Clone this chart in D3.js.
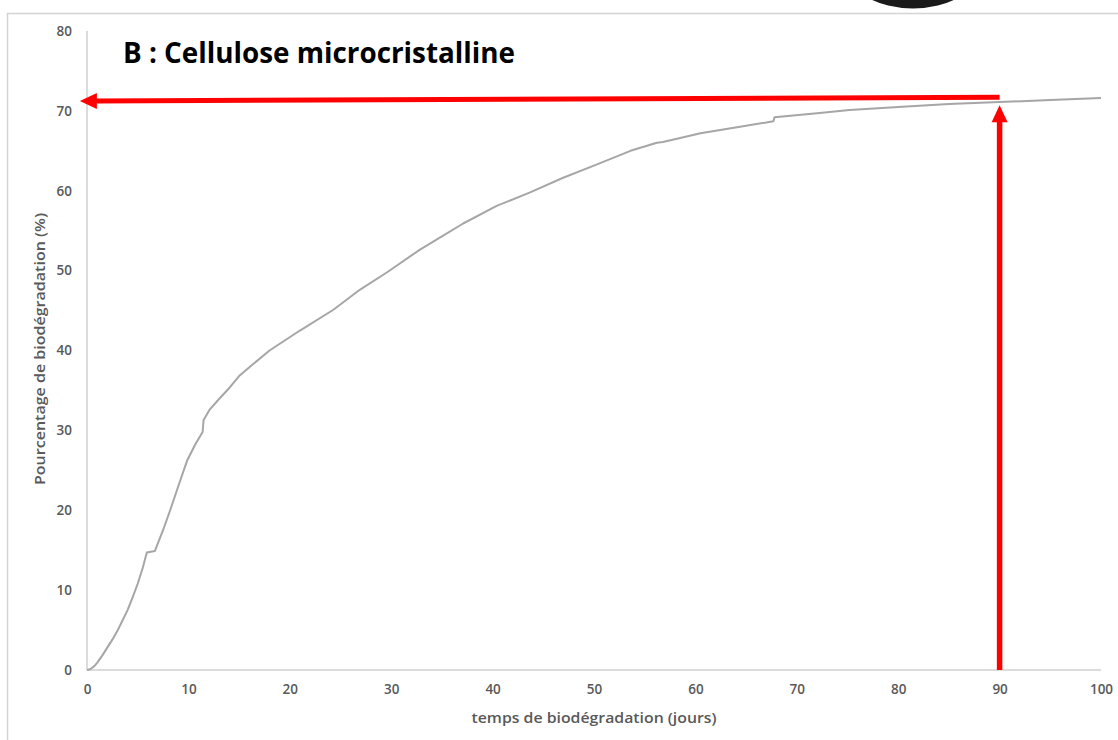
<!DOCTYPE html>
<html>
<head>
<meta charset="utf-8">
<script src="https://cdn.jsdelivr.net/npm/d3@7/dist/d3.min.js"></script>
<style>
  html, body { margin: 0; padding: 0; background: #ffffff; }
  svg { display: block; }
</style>
</head>
<body>
<svg id="chart" width="1118" height="740"></svg>
<script>
// ---- data ----
const days = [0, 0.3, 0.7, 1, 1.5, 2, 2.5, 3, 3.5, 4, 4.5, 5, 5.5, 5.9, 6.7, 7.5, 8.2, 9, 9.9, 10.7, 11.4, 11.5, 12.1, 13, 14.1, 15, 16.1, 18, 21, 24.3, 26.9, 29.6, 32.8, 35, 37.1, 40.4, 43.7, 46.9, 50.3, 53.6, 56.2, 56.8, 58.5, 60.5, 64.4, 67.7, 67.8, 72, 75.2, 80, 85, 90, 95, 100];
const biodeg = [0, 0.1, 0.45, 0.9, 1.8, 2.8, 3.8, 4.9, 6.2, 7.5, 9.1, 10.8, 12.8, 14.7, 14.9, 17.5, 20, 23, 26.3, 28.3, 29.8, 31.3, 32.6, 33.9, 35.4, 36.8, 38.0, 40.0, 42.5, 45.1, 47.6, 49.8, 52.6, 54.3, 55.9, 58.1, 59.8, 61.6, 63.3, 65.0, 66.0, 66.1, 66.6, 67.2, 68.0, 68.7, 69.2, 69.7, 70.1, 70.5, 70.85, 71.1, 71.35, 71.6];
const xTicks = [0, 10, 20, 30, 40, 50, 60, 70, 80, 90, 100];
const yTicks = [0, 10, 20, 30, 40, 50, 60, 70, 80];
const title = "B : Cellulose microcristalline";
const xLabel = "temps de biodégradation (jours)";
const yLabel = "Pourcentage de biodégradation (%)";
// annotation arrows (data units)
const hArrowFrom = [90, 71.7];
const hArrowTo = [-0.7, 71.25];
const vArrowFrom = [90, 0];
const vArrowTo = [90, 70.7];

// ---- layout ----
const svg = d3.select("#chart");
const x = d3.scaleLinear().domain([0, 100]).range([87, 1101]);
const y = d3.scaleLinear().domain([0, 80]).range([670, 31]);

// outer frame
svg.append("rect").attr("x", 7.5).attr("y", 13.5).attr("width", 1200).attr("height", 800)
  .attr("fill", "none").attr("stroke", "#d4d4d4").attr("stroke-width", 1.5);

// black shape at top
svg.append("ellipse").attr("cx", 913).attr("cy", -30).attr("rx", 65).attr("ry", 38.5)
  .attr("fill", "#1a1a1a");

// axes lines
const axisColor = "#d0d0d0";
svg.append("line").attr("x1", x(0)).attr("x2", x(0)).attr("y1", y(80)).attr("y2", y(0))
  .attr("stroke", axisColor).attr("stroke-width", 1.5);
svg.append("line").attr("x1", x(0)).attr("x2", x(100)).attr("y1", y(0)).attr("y2", y(0))
  .attr("stroke", axisColor).attr("stroke-width", 1.5);

const tickFont = "'Open Sans', sans-serif";
const xAxis = d3.axisBottom(x).tickValues(xTicks).tickSize(0).tickPadding(14).tickFormat(d3.format("d"));
const gx = svg.append("g").attr("transform", `translate(0,${y(0)})`).call(xAxis);
gx.select(".domain").remove();
gx.selectAll("text").attr("fill", "#595959").style("font-family", tickFont)
  .style("font-size", "13.5px").style("font-weight", "600");

const yAxis = d3.axisLeft(y).tickValues(yTicks).tickSize(0).tickPadding(15).tickFormat(d3.format("d"));
const gy = svg.append("g").attr("transform", `translate(${x(0)},0)`).call(yAxis);
gy.select(".domain").remove();
gy.selectAll("text").attr("fill", "#595959").style("font-family", tickFont)
  .style("font-size", "13.5px").style("font-weight", "600");

// curve
const line = d3.line().x((d, i) => x(days[i])).y((d, i) => y(biodeg[i]));
svg.append("path").datum(biodeg).attr("d", line)
  .attr("fill", "none").attr("stroke", "#a6a6a6").attr("stroke-width", 2)
  .attr("stroke-linejoin", "round");

// red arrows
const red = "#ff0000";
// horizontal
{
  const x1 = x(hArrowFrom[0]), y1 = y(hArrowFrom[1]);
  const x2 = x(hArrowTo[0]), y2 = y(hArrowTo[1]);
  const headLen = 17, headHalf = 8;
  svg.append("line").attr("x1", x1).attr("y1", y1).attr("x2", x2 + headLen - 1).attr("y2", y2)
    .attr("stroke", red).attr("stroke-width", 5);
  svg.append("path").attr("d", `M${x2},${y2} L${x2 + headLen},${y2 - headHalf} L${x2 + headLen},${y2 + headHalf} Z`)
    .attr("fill", red);
}
// vertical
{
  const x1 = x(vArrowFrom[0]), y1 = y(vArrowFrom[1]);
  const x2 = x(vArrowTo[0]), y2 = y(vArrowTo[1]);
  const headLen = 17, headHalf = 8;
  svg.append("line").attr("x1", x1).attr("y1", y1).attr("x2", x2).attr("y2", y2 + headLen - 1)
    .attr("stroke", red).attr("stroke-width", 5.5);
  svg.append("path").attr("d", `M${x2},${y2} L${x2 - headHalf},${y2 + headLen} L${x2 + headHalf},${y2 + headLen} Z`)
    .attr("fill", red);
}

// title
svg.append("text").attr("x", 123).attr("y", 63).text(title)
  .attr("fill", "#000").style("font-family", "'Open Sans', sans-serif")
  .style("font-size", "28px").style("font-weight", "700")
  .attr("textLength", 392).attr("lengthAdjust", "spacingAndGlyphs");

// axis labels
svg.append("text").attr("x", 594).attr("y", 723).attr("text-anchor", "middle").text(xLabel)
  .attr("fill", "#595959").style("font-family", "'Open Sans', sans-serif")
  .style("font-size", "14.5px").style("font-weight", "600")
  .attr("textLength", 245).attr("lengthAdjust", "spacingAndGlyphs");

svg.append("text").attr("transform", `translate(45,349) rotate(-90)`).attr("text-anchor", "middle").text(yLabel)
  .attr("fill", "#595959").style("font-family", "'Open Sans', sans-serif")
  .style("font-size", "14.5px").style("font-weight", "600")
  .attr("textLength", 272).attr("lengthAdjust", "spacingAndGlyphs");
</script>
</body>
</html>
